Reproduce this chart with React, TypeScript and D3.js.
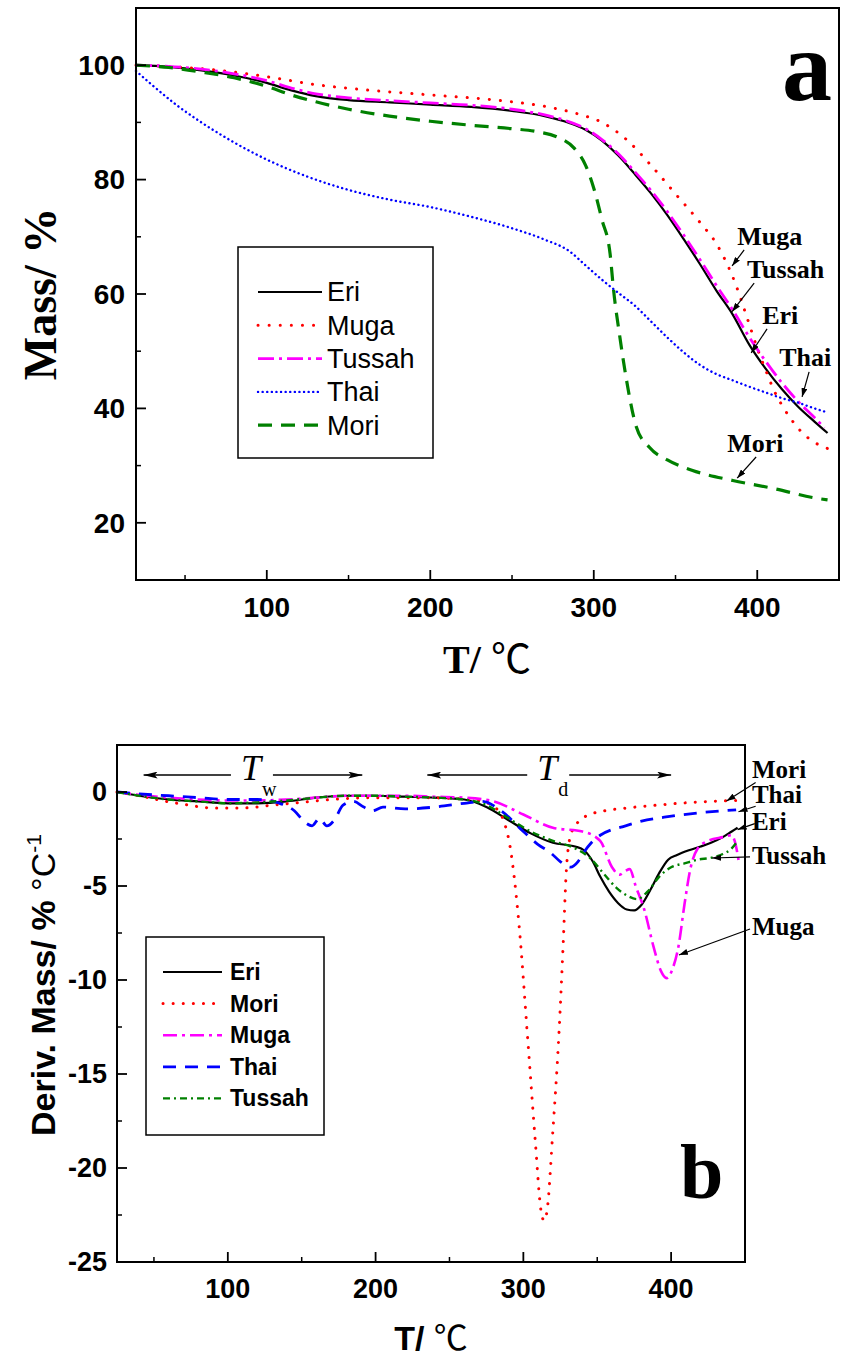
import * as d3 from "d3";

type Pt = [number, number];

// ---- panel a : TGA, mass (%) against temperature (°C)
const tgaEri: Pt[] = [
  [20, 100], [40, 99.7], [60, 99.1], [80, 98.2], [100, 96.9], [115, 95.6], [130, 94.6],
  [150, 93.9], [175, 93.5], [200, 93.1], [225, 92.7], [250, 92.0], [270, 91.1], [285, 89.9],
  [295, 88.7], [305, 86.8], [315, 84.2], [325, 81.0], [335, 77.6], [345, 73.8], [355, 69.6],
  [365, 65.2], [375, 60.6], [385, 56.4], [395, 51.2], [405, 47.0], [415, 43.4], [425, 40.3],
  [435, 37.7], [443, 35.7],
];
const tgaMuga: Pt[] = [
  [20, 100], [50, 99.6], [80, 98.8], [100, 98.0], [130, 96.6], [160, 95.7], [200, 94.8],
  [240, 93.9], [270, 92.8], [290, 91.5], [305, 90.0], [320, 87.0], [335, 82.5], [350, 77.5],
  [365, 72.5], [375, 68.8], [385, 63.0], [395, 54.8], [400, 50.5], [405, 46.8], [410, 43.3],
  [415, 40.6], [420, 38.4], [427, 35.9], [436, 33.9], [443, 33.0],
];
const tgaTussah: Pt[] = [
  [20, 100], [40, 99.8], [60, 99.3], [80, 98.5], [100, 97.3], [115, 96.0], [130, 95.0],
  [150, 94.3], [175, 93.8], [200, 93.4], [225, 93.0], [250, 92.3], [270, 91.3], [285, 90.1],
  [295, 88.9], [305, 87.0], [315, 84.5], [325, 81.4], [335, 78.1], [345, 74.4], [355, 70.3],
  [365, 66.0], [375, 61.5], [385, 57.2], [395, 52.5], [405, 48.3], [415, 44.5], [425, 41.2],
  [435, 38.4], [441, 36.6],
];
const tgaThai: Pt[] = [
  [20, 99], [30, 96.5], [45, 93], [60, 90], [80, 86.5], [100, 83.5], [125, 80.5], [150, 78.2],
  [175, 76.5], [200, 75.2], [225, 73.5], [250, 71.5], [270, 69.5], [285, 67.5], [295, 65],
  [305, 62.5], [315, 60.2], [325, 58], [335, 55.2], [345, 52.4], [355, 49.8], [365, 47.6],
  [375, 46], [385, 44.9], [395, 43.8], [405, 42.8], [415, 41.8], [425, 41], [435, 40],
  [443, 39.3],
];
const tgaMori: Pt[] = [
  [20, 100], [40, 99.6], [60, 98.8], [80, 97.8], [100, 96.3], [115, 94.8], [130, 93.6],
  [150, 92.3], [175, 91.1], [200, 90.2], [225, 89.5], [250, 88.9], [265, 88.4], [278, 87.4],
  [288, 85.5], [295, 82.5], [300, 78.5], [305, 73], [310, 67], [312, 61], [316, 52.4],
  [320, 45], [326, 36.8], [334, 33.2], [345, 31], [360, 29.2], [385, 27.4], [410, 26],
  [436, 24.3], [443, 24],
];

// ---- panel b : DTG, deriv. mass (% /°C) against temperature (°C)
const dtgEri: Pt[] = [
  [25, 0], [40, -0.2], [60, -0.4], [80, -0.5], [100, -0.6], [120, -0.6], [140, -0.5],
  [160, -0.3], [180, -0.2], [200, -0.2], [220, -0.25], [240, -0.3], [260, -0.4], [275, -0.8],
  [290, -1.5], [305, -2.2], [320, -2.7], [335, -2.9], [341, -3.1], [347, -3.7], [352, -4.5],
  [358, -5.3], [364, -5.9], [370, -6.25], [375, -6.3], [380, -6.0], [386, -5.2], [392, -4.3],
  [398, -3.6], [404, -3.35], [412, -3.1], [420, -2.9], [427, -2.7], [435, -2.4], [441, -2.1],
  [445, -1.9],
];
const dtgMori: Pt[] = [
  [25, 0], [40, -0.2], [55, -0.45], [70, -0.65], [90, -0.85], [110, -0.85], [130, -0.7],
  [150, -0.55], [170, -0.4], [200, -0.3], [230, -0.3], [255, -0.35], [272, -0.5], [282, -0.9],
  [287, -1.6], [291, -2.9], [297, -7], [303, -13.2], [308, -18.5], [312, -22.3], [314, -22.8],
  [316, -22.3], [320, -18], [324, -13], [327, -8], [329, -4.3], [332, -2.3], [337, -1.6],
  [345, -1.2], [355, -1.0], [370, -0.85], [390, -0.7], [415, -0.55], [445, -0.45],
];
const dtgMuga: Pt[] = [
  [25, 0], [40, -0.15], [60, -0.3], [80, -0.4], [100, -0.45], [120, -0.45], [140, -0.4],
  [160, -0.3], [180, -0.2], [200, -0.2], [220, -0.2], [240, -0.25], [260, -0.3], [280, -0.5],
  [300, -1.2], [320, -1.9], [340, -2.1], [352, -2.6], [360, -4.0], [365, -4.4], [369, -4.2],
  [372, -4.1], [376, -5.0], [382, -6.3], [388, -8.2], [393, -9.5], [397, -9.9], [401, -9.4],
  [405, -8.2], [409, -6.0], [413, -4.1], [418, -3.0], [425, -2.6], [435, -2.4], [441, -2.3],
  [443, -2.6], [446, -3.8],
];
const dtgThai: Pt[] = [
  [25, 0], [40, -0.1], [60, -0.2], [80, -0.3], [100, -0.4], [120, -0.4], [135, -0.6],
  [145, -1.0], [152, -1.6], [157, -1.8], [162, -1.4], [167, -1.8], [172, -1.5], [178, -0.7],
  [185, -0.5], [192, -0.8], [198, -1.0], [205, -0.8], [220, -0.9], [240, -0.8], [260, -0.6],
  [272, -0.5], [285, -1.0], [300, -2.1], [310, -2.8], [318, -3.2], [325, -3.7], [332, -4.0],
  [337, -3.7], [341, -3.2], [346, -2.7], [352, -2.3], [360, -2.0], [367, -1.85], [380, -1.55],
  [399, -1.3], [420, -1.1], [444, -0.95],
];
const dtgTussah: Pt[] = [
  [25, 0], [40, -0.2], [60, -0.4], [80, -0.5], [100, -0.6], [120, -0.55], [140, -0.45],
  [160, -0.3], [180, -0.2], [200, -0.2], [220, -0.25], [240, -0.3], [260, -0.4], [275, -0.7],
  [290, -1.4], [305, -2.1], [320, -2.6], [335, -3.0], [345, -3.5], [355, -4.4], [363, -5.1],
  [370, -5.5], [377, -5.7], [384, -5.3], [392, -4.5], [400, -4.0], [409, -3.8], [418, -3.6],
  [427, -3.5], [435, -3.3], [441, -3.0], [445, -2.6],
];

const tgaNames = ["Eri", "Muga", "Tussah", "Thai", "Mori"];
const tgaSeries = [tgaEri, tgaMuga, tgaTussah, tgaThai, tgaMori];
const dtgNames = ["Eri", "Mori", "Muga", "Thai", "Tussah"];
const dtgSeries = [dtgEri, dtgMori, dtgMuga, dtgThai, dtgTussah];

const tgaXTicks = [100, 200, 300, 400];
const tgaXMinor = [50, 150, 250, 350];
const tgaYTicks = [20, 40, 60, 80, 100];
const tgaYMinor = [30, 50, 70, 90];
const dtgXTicks = [100, 200, 300, 400];
const dtgXMinor = [50, 150, 250, 350];
const dtgYTicks = [0, -5, -10, -15, -20, -25];
const dtgYMinor = [-2.5, -7.5, -12.5, -17.5, -22.5];

// temperature regions marked on panel b
const regionLabels = ["w", "d"];
const regionRanges: Pt[] = [[43, 191], [235, 400]];

// curve labels: [text x, text y, arrow from x, from y, arrow tip x, tip y] in data units
const tgaNotes: [string, number[]][] = [
  ["Muga", [387.7, 68.6, 392.0, 67.7, 384.6, 64.9]],
  ["Tussah", [393.8, 62.8, 398.1, 61.9, 384.6, 56.9]],
  ["Eri", [403.0, 54.8, 406.0, 53.9, 396.3, 49.7]],
  ["Thai", [413.4, 47.4, 431.7, 46.4, 427.4, 42.0]],
  ["Mori", [381.6, 32.4, 399.3, 31.5, 387.7, 27.8]],
];
const dtgNotes: [string, number[]][] = [
  ["Mori", [454.7, 0.74, 457.2, 0.5, 437.5, -0.48]],
  ["Thai", [454.7, -0.59, 457.2, -0.76, 445.6, -1.05]],
  ["Eri", [454.7, -2.02, 456.6, -1.68, 445.0, -2.0]],
  ["Tussah", [454.7, -3.81, 453.4, -3.45, 427.7, -3.51]],
  ["Muga", [454.7, -7.61, 453.4, -7.29, 405.3, -8.67]],
];

const tgaStyle = [
  { color: "#000000", width: 2.2, dash: "none", cap: "butt" },
  { color: "#ff0000", width: 3, dash: "0.1 11", cap: "round" },
  { color: "#ff00ff", width: 2.8, dash: "16 5 3 5", cap: "butt" },
  { color: "#0000ff", width: 2.4, dash: "0.1 4.5", cap: "round" },
  { color: "#008000", width: 3.2, dash: "14 9", cap: "butt" },
];
const dtgStyle = [
  { color: "#000000", width: 2.2, dash: "none", cap: "butt" },
  { color: "#ff0000", width: 3, dash: "0.1 10", cap: "round" },
  { color: "#ff00ff", width: 2.6, dash: "14 5 3 5", cap: "butt" },
  { color: "#0000ff", width: 2.8, dash: "13 9", cap: "butt" },
  { color: "#008000", width: 2.4, dash: "7 4 2 4", cap: "butt" },
];

const SANS = "'Liberation Sans', Arial, sans-serif";
const SERIF = "'Liberation Serif', 'Times New Roman', serif";
const CJK = "'Noto Sans CJK SC', 'DejaVu Sans', sans-serif";

const aBox = { left: 136, right: 839, top: 8, bottom: 580 };
const bBox = { left: 117, right: 745, top: 745, bottom: 1262 };

function Frame({ box, x, y, xt, xm, yt, ym, xLabelY, yLabelX, fs }: any) {
  return (
    <g>
      <rect x={box.left} y={box.top} width={box.right - box.left} height={box.bottom - box.top}
        fill="none" stroke="#000" strokeWidth={2} />
      {xt.map((t: number) => (
        <g key={"xt" + t}>
          <line x1={x(t)} x2={x(t)} y1={box.bottom} y2={box.bottom - 10} stroke="#000" strokeWidth={1.8} />
          <text x={x(t)} y={xLabelY} textAnchor="middle" fontFamily={SANS} fontWeight="bold" fontSize={fs}>{t}</text>
        </g>
      ))}
      {xm.map((t: number) => (
        <line key={"xm" + t} x1={x(t)} x2={x(t)} y1={box.bottom} y2={box.bottom - 5} stroke="#000" strokeWidth={1.5} />
      ))}
      {yt.map((t: number) => (
        <g key={"yt" + t}>
          <line x1={box.left} x2={box.left + 10} y1={y(t)} y2={y(t)} stroke="#000" strokeWidth={1.8} />
          <text x={yLabelX} y={y(t)} dy="0.35em" textAnchor="end" fontFamily={SANS} fontWeight="bold" fontSize={fs}>{t}</text>
        </g>
      ))}
      {ym.map((t: number) => (
        <line key={"ym" + t} x1={box.left} x2={box.left + 5} y1={y(t)} y2={y(t)} stroke="#000" strokeWidth={1.5} />
      ))}
    </g>
  );
}

export default function App() {
  const xa = d3.scaleLinear().domain([20, 450]).range([aBox.left, aBox.right]);
  const ya = d3.scaleLinear().domain([10, 110]).range([aBox.bottom, aBox.top]);
  const xb = d3.scaleLinear().domain([25, 450]).range([bBox.left, bBox.right]);
  const yb = d3.scaleLinear().domain([-25, 2.5]).range([bBox.bottom, bBox.top]);

  const lineA = d3.line<Pt>().x(d => xa(d[0])).y(d => ya(d[1])).curve(d3.curveMonotoneX);
  const lineB = d3.line<Pt>().x(d => xb(d[0])).y(d => yb(d[1])).curve(d3.curveMonotoneX);

  const arrowY = yb(0.9);

  return (
    <svg width={843} height={1359} style={{ position: "absolute", left: 0, top: 0, background: "#fff" }}>
      <defs>
        <marker id="head" markerUnits="userSpaceOnUse" markerWidth={9} markerHeight={6} refX={9} refY={3} orient="auto">
          <path d="M0,0 L9,3 L0,6 Z" fill="#000" />
        </marker>
        <marker id="bighead" markerUnits="userSpaceOnUse" markerWidth={14} markerHeight={7} refX={14} refY={3.5} orient="auto">
          <path d="M0,0 L14,3.5 L0,7 L3,3.5 Z" fill="#000" />
        </marker>
      </defs>
      <rect x={0} y={0} width={843} height={1359} fill="#fff" />

      {/* ---------- panel a ---------- */}
      {tgaSeries.map((s, i) => (
        <path key={tgaNames[i]} d={lineA(s) || ""} fill="none" stroke={tgaStyle[i].color}
          strokeWidth={tgaStyle[i].width} strokeDasharray={tgaStyle[i].dash}
          strokeLinecap={tgaStyle[i].cap as any} />
      ))}
      <Frame box={aBox} x={xa} y={ya} xt={tgaXTicks} xm={tgaXMinor} yt={tgaYTicks} ym={tgaYMinor}
        xLabelY={617} yLabelX={125} fs={28} />
      <text transform="translate(56,294) rotate(-90)" textAnchor="middle" fontFamily={SERIF}
        fontWeight="bold" fontSize={46}>Mass/ %</text>
      <text x={487} y={673} textAnchor="middle" fontFamily={SERIF} fontWeight="bold" fontSize={40}>
        T/ <tspan fontFamily={CJK} fontWeight="normal">℃</tspan>
      </text>
      <text x={782} y={100} fontFamily={SERIF} fontWeight="bold" fontSize={100}>a</text>

      <rect x={238} y={247} width={195} height={211} fill="#fff" stroke="#000" strokeWidth={1.5} />
      {tgaNames.map((n, i) => {
        const yy = 292 + i * 33.3;
        return (
          <g key={"la" + n}>
            <line x1={258} x2={322} y1={yy} y2={yy} stroke={tgaStyle[i].color}
              strokeWidth={tgaStyle[i].width} strokeDasharray={tgaStyle[i].dash}
              strokeLinecap={tgaStyle[i].cap as any} />
            <text x={327} y={yy} dy="0.35em" fontFamily={SANS} fontSize={27}>{n}</text>
          </g>
        );
      })}

      {tgaNotes.map(([n, p]) => (
        <g key={"na" + n}>
          <text x={xa(p[0])} y={ya(p[1])} fontFamily={SERIF} fontWeight="bold" fontSize={26}>{n}</text>
          <line x1={xa(p[2])} y1={ya(p[3])} x2={xa(p[4])} y2={ya(p[5])} stroke="#000"
            strokeWidth={1.2} markerEnd="url(#head)" />
        </g>
      ))}

      {/* ---------- panel b ---------- */}
      {dtgSeries.map((s, i) => (
        <path key={dtgNames[i]} d={lineB(s) || ""} fill="none" stroke={dtgStyle[i].color}
          strokeWidth={dtgStyle[i].width} strokeDasharray={dtgStyle[i].dash}
          strokeLinecap={dtgStyle[i].cap as any} />
      ))}
      <Frame box={bBox} x={xb} y={yb} xt={dtgXTicks} xm={dtgXMinor} yt={dtgYTicks} ym={dtgYMinor}
        xLabelY={1298} yLabelX={107} fs={27} />
      <text transform="translate(55,985) rotate(-90)" textAnchor="middle" fontFamily={SANS} fontSize={34}>
        <tspan fontWeight="bold">Deriv. Mass/ % </tspan>
        <tspan>°C</tspan>
        <tspan fontSize={21} dy={-14}>-1</tspan>
      </text>
      <text x={431} y={1350} textAnchor="middle" fontFamily={SANS} fontWeight="bold" fontSize={34}>
        T/ <tspan fontFamily={CJK} fontWeight="normal">℃</tspan>
      </text>
      <text x={680} y={1198} fontFamily={SERIF} fontWeight="bold" fontSize={78}>b</text>

      {regionRanges.map((r, i) => {
        const mid = xb((r[0] + r[1]) / 2);
        return (
          <g key={"reg" + i}>
            <line x1={mid - 22} x2={xb(r[0])} y1={arrowY} y2={arrowY} stroke="#000" strokeWidth={1.5} markerEnd="url(#bighead)" />
            <line x1={mid + 20} x2={xb(r[1])} y1={arrowY} y2={arrowY} stroke="#000" strokeWidth={1.5} markerEnd="url(#bighead)" />
            <text x={mid - 12} y={arrowY + 5} fontFamily={SERIF} fontStyle="italic" fontSize={36}>T</text>
            <text x={mid + 9} y={arrowY + 21} fontFamily={SERIF} fontSize={20}>{regionLabels[i]}</text>
          </g>
        );
      })}

      <rect x={146} y={937} width={178} height={198} fill="#fff" stroke="#000" strokeWidth={1.5} />
      {dtgNames.map((n, i) => {
        const yy = 972 + i * 31.6;
        return (
          <g key={"lb" + n}>
            <line x1={163} x2={222} y1={yy} y2={yy} stroke={dtgStyle[i].color}
              strokeWidth={dtgStyle[i].width} strokeDasharray={dtgStyle[i].dash}
              strokeLinecap={dtgStyle[i].cap as any} />
            <text x={230} y={yy} dy="0.35em" fontFamily={SANS} fontWeight="bold" fontSize={23}>{n}</text>
          </g>
        );
      })}

      {dtgNotes.map(([n, p]) => (
        <g key={"nb" + n}>
          <text x={xb(p[0])} y={yb(p[1])} fontFamily={SERIF} fontWeight="bold" fontSize={25}>{n}</text>
          <line x1={xb(p[2])} y1={yb(p[3])} x2={xb(p[4])} y2={yb(p[5])} stroke="#000"
            strokeWidth={1.2} markerEnd="url(#head)" />
        </g>
      ))}
    </svg>
  );
}
